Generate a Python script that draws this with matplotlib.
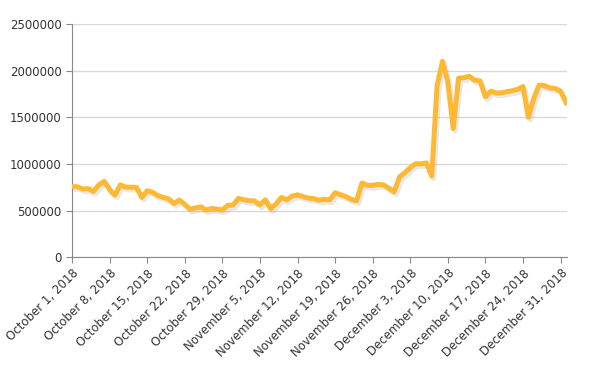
"""
Daily values, Oct 1 2018 - Jan 1 2019
"""

import matplotlib
matplotlib.use("Agg")
import matplotlib.pyplot as plt
import matplotlib.patheffects as pe
import pandas as pd

START = "2018-10-01"

# daily values, in thousands
values_k = [
    758, 755, 730, 735, 705, 775, 813, 725, 665, 775,
    750, 750, 748, 640, 712, 695, 660, 640, 625, 575,
    612, 565, 515, 528, 540, 505, 522, 515, 505, 555,
    558, 630, 615, 605, 603, 560, 614, 520, 570, 640,
    614, 655, 668, 650, 633, 628, 610, 621, 614, 690,
    670, 650, 620, 603, 795, 770, 770, 780, 775, 740,
    700, 860, 905, 960, 1002, 1000, 1010, 870, 1840, 2100,
    1880, 1380, 1920, 1925, 1940, 1900, 1890, 1720, 1780, 1760,
    1763, 1775, 1785, 1800, 1830, 1500, 1700, 1846, 1840, 1815,
    1810, 1780, 1660,
]
values = [v * 1000 for v in values_k]
dates = pd.date_range(START, periods=len(values), freq="D")

tick_dates = pd.date_range(START, "2018-12-31", freq="7D")
tick_labels = [f"{d:%B} {d.day}, {d.year}" for d in tick_dates]
y_ticks = [0, 500000, 1000000, 1500000, 2000000, 2500000]

LINE_COLOR = "#fdb933"
AXIS_COLOR = "#888888"
TEXT_COLOR = "#333333"

fig = plt.figure(figsize=(5.95, 3.71), dpi=100)
ax = fig.add_axes([0.121, 0.307, 0.832, 0.628])

ax.plot(dates, values, color=LINE_COLOR, lw=3.6, solid_joinstyle="round",
        path_effects=[pe.SimpleLineShadow(offset=(1.5, -2), shadow_color="#999999", alpha=0.22),
                      pe.Normal()], zorder=3)

ax.set_ylim(0, 2500000)
ax.set_xlim(dates[0], dates[0] + pd.Timedelta(days=92.2))
ax.set_yticks(y_ticks)
ax.set_yticklabels([str(v) for v in y_ticks])
ax.set_xticks(tick_dates)
ax.set_xticklabels(tick_labels, rotation=45, ha="right", rotation_mode="anchor")

ax.grid(axis="y", color="#d9d9d9", lw=1)
ax.set_axisbelow(True)
for side in ["top", "right"]:
    ax.spines[side].set_visible(False)
for side in ["left", "bottom"]:
    ax.spines[side].set_color(AXIS_COLOR)
ax.tick_params(axis="both", colors=AXIS_COLOR, labelcolor=TEXT_COLOR, labelsize=8.5,
               length=4, direction="out")
ax.tick_params(axis="x", pad=3)

plt.savefig("out.png", dpi=100)
plt.close()
